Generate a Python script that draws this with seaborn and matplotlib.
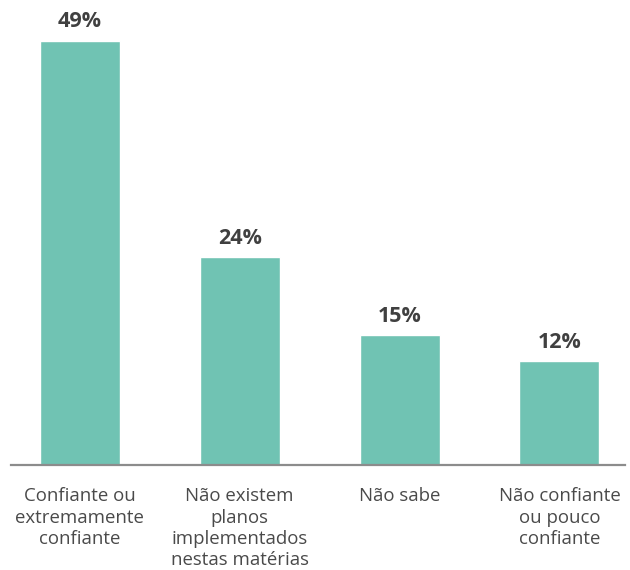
import matplotlib
matplotlib.use("Agg")
import matplotlib.pyplot as plt
import seaborn as sns
import pandas as pd

categories = [
    "Confiante ou\nextremamente\nconfiante",
    "Não existem\nplanos\nimplementados\nnestas matérias",
    "Não sabe",
    "Não confiante\nou pouco\nconfiante",
]
values = [49, 24, 15, 12]
value_labels = ["49%", "24%", "15%", "12%"]

sns.set_theme(style="white")
plt.rcParams["font.family"] = ["Open Sans", "DejaVu Sans"]

df = pd.DataFrame({"categoria": categories, "valor": values})

fig = plt.figure(figsize=(6.3, 5.7), dpi=100)
ax = fig.add_axes([11 / 630, 105 / 570, 614 / 630, 432.6 / 570])

sns.barplot(data=df, x="categoria", y="valor", color="#70c3b3", width=0.5,
            saturation=1, ax=ax)

ax.set_xlim(-0.43, 3.41)
ax.set_ylim(0, 50)

for i, (v, lab) in enumerate(zip(values, value_labels)):
    ax.text(i, v + 1.0, lab, ha="center", va="bottom", fontsize=15.5,
            fontweight="bold", color="#404040", clip_on=False)

ax.set_xlabel("")
ax.set_ylabel("")
ax.set_yticks([])
ax.tick_params(axis="x", length=0, pad=16, labelsize=13.4, labelcolor="#4a4a4a")
for t in ax.get_xticklabels():
    t.set_linespacing(1.24)
for side in ["left", "right", "top"]:
    ax.spines[side].set_visible(False)
ax.spines["bottom"].set_color("#8c8c8c")
ax.spines["bottom"].set_linewidth(1.6)

fig.savefig("out.png", dpi=100)
